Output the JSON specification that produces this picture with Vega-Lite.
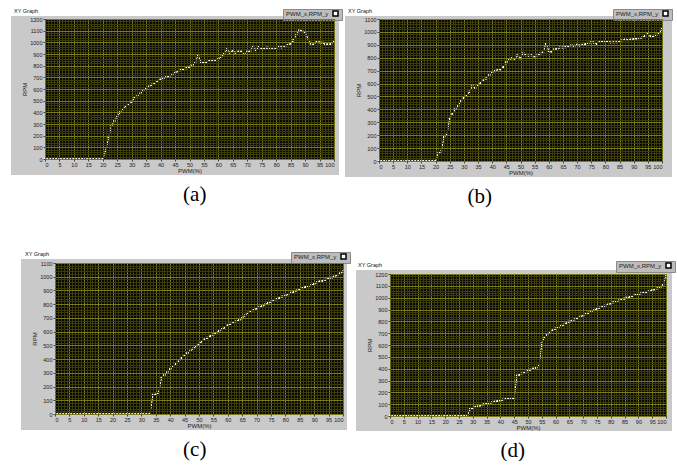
{
"$schema": "https://vega.github.io/schema/vega-lite/v6.json",
"background": "white",
"padding": {"left": 11, "top": 8, "right": 0, "bottom": 0},
"config": {"view": {"stroke": null}, "axis": {"labelFont": "Liberation Sans", "titleFont": "Liberation Sans"}, "legend": {"labelFont": "Liberation Sans"}},
"resolve": {"scale": {"color": "independent"}},
"spacing": 44,
"vconcat": [
{"hconcat": [
 {"title": {"text": "(a)", "orient": "bottom", "anchor": "middle", "dx": 18, "offset": 9, "font": "Liberation Serif", "fontSize": 21, "fontWeight": "normal", "color": "#000"},
  "resolve": {"scale": {"color": "independent"}},
  "vconcat": [
  {"width": 328, "height": 159,
   "view": {"fill": "#c9c9c9", "stroke": null},
   "title": {"text": "XY Graph", "anchor": "start", "dx": 3, "offset": -5.5, "fontSize": 5.5, "font": "Liberation Sans", "fontWeight": "normal", "color": "#111"},
   "data": {"values": [{"pwm":0,"rpm":0},{"pwm":1,"rpm":0},{"pwm":2,"rpm":0},{"pwm":3,"rpm":0},{"pwm":4,"rpm":0},{"pwm":5,"rpm":0},{"pwm":6,"rpm":0},{"pwm":7,"rpm":0},{"pwm":8,"rpm":0},{"pwm":9,"rpm":0},{"pwm":10,"rpm":0},{"pwm":11,"rpm":0},{"pwm":12,"rpm":0},{"pwm":13,"rpm":0},{"pwm":14,"rpm":0},{"pwm":15,"rpm":0},{"pwm":16,"rpm":0},{"pwm":17,"rpm":0},{"pwm":18,"rpm":0},{"pwm":19,"rpm":0},{"pwm":20,"rpm":0},{"pwm":21,"rpm":70},{"pwm":22,"rpm":180},{"pwm":23,"rpm":285},{"pwm":24,"rpm":325},{"pwm":25,"rpm":363},{"pwm":26,"rpm":400},{"pwm":27,"rpm":425},{"pwm":28,"rpm":454},{"pwm":29,"rpm":463},{"pwm":30,"rpm":491},{"pwm":31,"rpm":523},{"pwm":32,"rpm":540},{"pwm":33,"rpm":560},{"pwm":34,"rpm":586},{"pwm":35,"rpm":608},{"pwm":36,"rpm":620},{"pwm":37,"rpm":637},{"pwm":38,"rpm":650},{"pwm":39,"rpm":669},{"pwm":40,"rpm":680},{"pwm":41,"rpm":694},{"pwm":42,"rpm":703},{"pwm":43,"rpm":709},{"pwm":44,"rpm":722},{"pwm":45,"rpm":738},{"pwm":46,"rpm":752},{"pwm":47,"rpm":762},{"pwm":48,"rpm":770},{"pwm":49,"rpm":778},{"pwm":50,"rpm":790},{"pwm":51,"rpm":800},{"pwm":52,"rpm":830},{"pwm":53,"rpm":890},{"pwm":54,"rpm":828},{"pwm":55,"rpm":826},{"pwm":56,"rpm":831},{"pwm":57,"rpm":846},{"pwm":58,"rpm":849},{"pwm":59,"rpm":849},{"pwm":60,"rpm":857},{"pwm":61,"rpm":877},{"pwm":62,"rpm":900},{"pwm":63,"rpm":940},{"pwm":64,"rpm":911},{"pwm":65,"rpm":929},{"pwm":66,"rpm":911},{"pwm":67,"rpm":920},{"pwm":68,"rpm":920},{"pwm":69,"rpm":906},{"pwm":70,"rpm":920},{"pwm":71,"rpm":920},{"pwm":72,"rpm":969},{"pwm":73,"rpm":934},{"pwm":74,"rpm":960},{"pwm":75,"rpm":946},{"pwm":76,"rpm":943},{"pwm":77,"rpm":954},{"pwm":78,"rpm":951},{"pwm":79,"rpm":951},{"pwm":80,"rpm":951},{"pwm":81,"rpm":963},{"pwm":82,"rpm":957},{"pwm":83,"rpm":963},{"pwm":84,"rpm":977},{"pwm":85,"rpm":989},{"pwm":86,"rpm":1017},{"pwm":87,"rpm":1069},{"pwm":88,"rpm":1103},{"pwm":89,"rpm":1097},{"pwm":90,"rpm":1083},{"pwm":91,"rpm":1034},{"pwm":92,"rpm":989},{"pwm":93,"rpm":980},{"pwm":94,"rpm":1003},{"pwm":95,"rpm":1000},{"pwm":96,"rpm":997},{"pwm":97,"rpm":983},{"pwm":98,"rpm":983},{"pwm":99,"rpm":986},{"pwm":100,"rpm":1009}]},
   "layer": [
    {"mark": {"type": "rect", "color": "#080800"},
     "encoding": {
      "x": {"datum": 0, "type": "quantitative", "scale": {"domain": [0, 100], "range": [34, 323], "nice": false, "zero": false},
            "axis": {"orient": "top", "values": [0,1,2,3,4,5,6,7,8,9,10,11,12,13,14,15,16,17,18,19,20,21,22,23,24,25,26,27,28,29,30,31,32,33,34,35,36,37,38,39,40,41,42,43,44,45,46,47,48,49,50,51,52,53,54,55,56,57,58,59,60,61,62,63,64,65,66,67,68,69,70,71,72,73,74,75,76,77,78,79,80,81,82,83,84,85,86,87,88,89,90,91,92,93,94,95,96,97,98,99,100], "grid": true, "gridColor": "#3c3c08", "labels": false, "ticks": false, "domain": false, "title": null, "zindex": 1}},
      "x2": {"datum": 100},
      "y": {"datum": 0, "type": "quantitative", "scale": {"domain": [0, 1200], "range": [143, 3], "nice": false, "zero": false},
            "axis": {"orient": "left", "values": [0,20,40,60,80,100,120,140,160,180,200,220,240,260,280,300,320,340,360,380,400,420,440,460,480,500,520,540,560,580,600,620,640,660,680,700,720,740,760,780,800,820,840,860,880,900,920,940,960,980,1000,1020,1040,1060,1080,1100,1120,1140,1160,1180,1200], "grid": true, "gridColor": "#3c3c08", "labels": false, "ticks": false, "domain": false, "title": null, "zindex": 1}},
      "y2": {"datum": 1200}}},
    {"mark": {"type": "line", "color": "#ffffff", "strokeWidth": 1},
     "encoding": {
      "x": {"field": "pwm", "type": "quantitative", "axis": {"orient": "bottom", "values": [0,5,10,15,20,25,30,35,40,45,50,55,60,65,70,75,80,85,90,95,100], "format": "d", "grid": false, "domain": false, "tickColor": "#444", "tickSize": 2, "labelFontSize": 5.5, "labelColor": "#222", "labelPadding": 1, "title": "PWM(%)", "titleFontSize": 6, "titleFontWeight": "normal", "titleColor": "#222", "titlePadding": 0, "offset": -16, "zindex": 1}},
      "y": {"field": "rpm", "type": "quantitative", "axis": {"orient": "left", "values": [0,100,200,300,400,500,600,700,800,900,1000,1100,1200], "format": "d", "grid": false, "domain": false, "tickColor": "#444", "tickSize": 2, "labelFontSize": 5.5, "labelColor": "#222", "labelPadding": 1, "title": "RPM", "titleFontSize": 6, "titleFontWeight": "normal", "titleColor": "#222", "titlePadding": 2, "offset": -34, "zindex": 1}}}},
    {"mark": {"type": "square", "filled": true, "size": 5, "opacity": 1},
     "encoding": {
      "x": {"field": "pwm", "type": "quantitative", "axis": {"orient": "top", "values": [0,5,10,15,20,25,30,35,40,45,50,55,60,65,70,75,80,85,90,95,100], "grid": true, "gridColor": "#7a7a1e", "labels": false, "ticks": false, "domain": false, "title": null, "zindex": 1}},
      "y": {"field": "rpm", "type": "quantitative", "axis": {"orient": "left", "values": [0,100,200,300,400,500,600,700,800,900,1000,1100,1200], "grid": true, "gridColor": "#7a7a1e", "labels": false, "ticks": false, "domain": false, "title": null, "zindex": 1}},
      "color": {"datum": "PWM_x,RPM_y", "type": "nominal", "scale": {"range": ["#ffffff"]}, "legend": {"orient": "none", "legendX": 272, "legendY": -7, "title": null, "labelFontSize": 6, "labelColor": "#222", "symbolType": "square", "symbolSize": 25, "symbolStrokeColor": "#000", "symbolStrokeWidth": 1.5, "fillColor": "#bdbdbd", "strokeColor": "#8a8a8a", "padding": 1, "symbolOffset": 48, "labelOffset": -53}}}}
   ],
   "resolve": {"axis": {"x": "independent", "y": "independent"}}
  }]},
 {"title": {"text": "(b)", "orient": "bottom", "anchor": "middle", "dx": -29, "offset": 9, "font": "Liberation Serif", "fontSize": 21, "fontWeight": "normal", "color": "#000"},
  "resolve": {"scale": {"color": "independent"}},
  "vconcat": [
  {"width": 327, "height": 161,
   "view": {"fill": "#c9c9c9", "stroke": null},
   "title": {"text": "XY Graph", "anchor": "start", "dx": 3, "offset": -5.5, "fontSize": 5.5, "font": "Liberation Sans", "fontWeight": "normal", "color": "#111"},
   "data": {"values": [{"pwm":0,"rpm":0},{"pwm":1,"rpm":0},{"pwm":2,"rpm":0},{"pwm":3,"rpm":0},{"pwm":4,"rpm":0},{"pwm":5,"rpm":0},{"pwm":6,"rpm":0},{"pwm":7,"rpm":0},{"pwm":8,"rpm":0},{"pwm":9,"rpm":0},{"pwm":10,"rpm":0},{"pwm":11,"rpm":0},{"pwm":12,"rpm":0},{"pwm":13,"rpm":0},{"pwm":14,"rpm":0},{"pwm":15,"rpm":0},{"pwm":16,"rpm":0},{"pwm":17,"rpm":0},{"pwm":18,"rpm":0},{"pwm":19,"rpm":0},{"pwm":20,"rpm":0},{"pwm":21,"rpm":60},{"pwm":22,"rpm":75},{"pwm":23,"rpm":185},{"pwm":24,"rpm":203},{"pwm":25,"rpm":333},{"pwm":26,"rpm":367},{"pwm":27,"rpm":403},{"pwm":28,"rpm":429},{"pwm":29,"rpm":463},{"pwm":30,"rpm":489},{"pwm":31,"rpm":507},{"pwm":32,"rpm":536},{"pwm":33,"rpm":580},{"pwm":34,"rpm":567},{"pwm":35,"rpm":588},{"pwm":36,"rpm":606},{"pwm":37,"rpm":624},{"pwm":38,"rpm":640},{"pwm":39,"rpm":666},{"pwm":40,"rpm":689},{"pwm":41,"rpm":697},{"pwm":42,"rpm":710},{"pwm":43,"rpm":710},{"pwm":44,"rpm":728},{"pwm":45,"rpm":767},{"pwm":46,"rpm":785},{"pwm":47,"rpm":796},{"pwm":48,"rpm":790},{"pwm":49,"rpm":819},{"pwm":50,"rpm":796},{"pwm":51,"rpm":835},{"pwm":52,"rpm":819},{"pwm":53,"rpm":816},{"pwm":54,"rpm":819},{"pwm":55,"rpm":811},{"pwm":56,"rpm":819},{"pwm":57,"rpm":832},{"pwm":58,"rpm":840},{"pwm":59,"rpm":913},{"pwm":60,"rpm":853},{"pwm":61,"rpm":848},{"pwm":62,"rpm":866},{"pwm":63,"rpm":871},{"pwm":64,"rpm":879},{"pwm":65,"rpm":879},{"pwm":66,"rpm":882},{"pwm":67,"rpm":884},{"pwm":68,"rpm":897},{"pwm":69,"rpm":892},{"pwm":70,"rpm":900},{"pwm":71,"rpm":895},{"pwm":72,"rpm":900},{"pwm":73,"rpm":905},{"pwm":74,"rpm":915},{"pwm":75,"rpm":920},{"pwm":76,"rpm":918},{"pwm":77,"rpm":908},{"pwm":78,"rpm":926},{"pwm":79,"rpm":928},{"pwm":80,"rpm":928},{"pwm":81,"rpm":926},{"pwm":82,"rpm":918},{"pwm":83,"rpm":920},{"pwm":84,"rpm":920},{"pwm":85,"rpm":923},{"pwm":86,"rpm":936},{"pwm":87,"rpm":941},{"pwm":88,"rpm":936},{"pwm":89,"rpm":941},{"pwm":90,"rpm":947},{"pwm":91,"rpm":949},{"pwm":92,"rpm":952},{"pwm":93,"rpm":957},{"pwm":94,"rpm":967},{"pwm":95,"rpm":988},{"pwm":96,"rpm":965},{"pwm":97,"rpm":962},{"pwm":98,"rpm":978},{"pwm":99,"rpm":986},{"pwm":100,"rpm":1022}]},
   "layer": [
    {"mark": {"type": "rect", "color": "#080800"},
     "encoding": {
      "x": {"datum": 0, "type": "quantitative", "scale": {"domain": [0, 100], "range": [34, 317], "nice": false, "zero": false},
            "axis": {"orient": "top", "values": [0,1,2,3,4,5,6,7,8,9,10,11,12,13,14,15,16,17,18,19,20,21,22,23,24,25,26,27,28,29,30,31,32,33,34,35,36,37,38,39,40,41,42,43,44,45,46,47,48,49,50,51,52,53,54,55,56,57,58,59,60,61,62,63,64,65,66,67,68,69,70,71,72,73,74,75,76,77,78,79,80,81,82,83,84,85,86,87,88,89,90,91,92,93,94,95,96,97,98,99,100], "grid": true, "gridColor": "#3c3c08", "labels": false, "ticks": false, "domain": false, "title": null, "zindex": 1}},
      "x2": {"datum": 100},
      "y": {"datum": 0, "type": "quantitative", "scale": {"domain": [0, 1100], "range": [145, 3], "nice": false, "zero": false},
            "axis": {"orient": "left", "values": [0,20,40,60,80,100,120,140,160,180,200,220,240,260,280,300,320,340,360,380,400,420,440,460,480,500,520,540,560,580,600,620,640,660,680,700,720,740,760,780,800,820,840,860,880,900,920,940,960,980,1000,1020,1040,1060,1080,1100], "grid": true, "gridColor": "#3c3c08", "labels": false, "ticks": false, "domain": false, "title": null, "zindex": 1}},
      "y2": {"datum": 1100}}},
    {"mark": {"type": "line", "color": "#ffffff", "strokeWidth": 1},
     "encoding": {
      "x": {"field": "pwm", "type": "quantitative", "axis": {"orient": "bottom", "values": [0,5,10,15,20,25,30,35,40,45,50,55,60,65,70,75,80,85,90,95,100], "format": "d", "grid": false, "domain": false, "tickColor": "#444", "tickSize": 2, "labelFontSize": 5.5, "labelColor": "#222", "labelPadding": 1, "title": "PWM(%)", "titleFontSize": 6, "titleFontWeight": "normal", "titleColor": "#222", "titlePadding": 0, "offset": -16, "zindex": 1}},
      "y": {"field": "rpm", "type": "quantitative", "axis": {"orient": "left", "values": [0,100,200,300,400,500,600,700,800,900,1000,1100], "format": "d", "grid": false, "domain": false, "tickColor": "#444", "tickSize": 2, "labelFontSize": 5.5, "labelColor": "#222", "labelPadding": 1, "title": "RPM", "titleFontSize": 6, "titleFontWeight": "normal", "titleColor": "#222", "titlePadding": 2, "offset": -34, "zindex": 1}}}},
    {"mark": {"type": "square", "filled": true, "size": 5, "opacity": 1},
     "encoding": {
      "x": {"field": "pwm", "type": "quantitative", "axis": {"orient": "top", "values": [0,5,10,15,20,25,30,35,40,45,50,55,60,65,70,75,80,85,90,95,100], "grid": true, "gridColor": "#7a7a1e", "labels": false, "ticks": false, "domain": false, "title": null, "zindex": 1}},
      "y": {"field": "rpm", "type": "quantitative", "axis": {"orient": "left", "values": [0,100,200,300,400,500,600,700,800,900,1000,1100], "grid": true, "gridColor": "#7a7a1e", "labels": false, "ticks": false, "domain": false, "title": null, "zindex": 1}},
      "color": {"datum": "PWM_x,RPM_y", "type": "nominal", "scale": {"range": ["#ffffff"]}, "legend": {"orient": "none", "legendX": 268, "legendY": -7, "title": null, "labelFontSize": 6, "labelColor": "#222", "symbolType": "square", "symbolSize": 25, "symbolStrokeColor": "#000", "symbolStrokeWidth": 1.5, "fillColor": "#bdbdbd", "strokeColor": "#8a8a8a", "padding": 1, "symbolOffset": 48, "labelOffset": -53}}}}
   ],
   "resolve": {"axis": {"x": "independent", "y": "independent"}}
  }]}
], "spacing": 2, "resolve": {"scale": {"color": "independent"}}},
{"hconcat": [
 {"width": 5, "height": 1, "data": {"values": []}, "mark": "point", "encoding": {}},
 {"title": {"text": "(c)", "orient": "bottom", "anchor": "middle", "dx": 9, "offset": 9, "font": "Liberation Serif", "fontSize": 21, "fontWeight": "normal", "color": "#000"},
  "resolve": {"scale": {"color": "independent"}},
  "vconcat": [
  {"width": 326, "height": 171,
   "view": {"fill": "#c9c9c9", "stroke": null},
   "title": {"text": "XY Graph", "anchor": "start", "dx": 4, "offset": -5.5, "fontSize": 5.5, "font": "Liberation Sans", "fontWeight": "normal", "color": "#111"},
   "data": {"values": [{"pwm":0,"rpm":0},{"pwm":1,"rpm":0},{"pwm":2,"rpm":0},{"pwm":3,"rpm":0},{"pwm":4,"rpm":0},{"pwm":5,"rpm":0},{"pwm":6,"rpm":0},{"pwm":7,"rpm":0},{"pwm":8,"rpm":0},{"pwm":9,"rpm":0},{"pwm":10,"rpm":0},{"pwm":11,"rpm":0},{"pwm":12,"rpm":0},{"pwm":13,"rpm":0},{"pwm":14,"rpm":0},{"pwm":15,"rpm":0},{"pwm":16,"rpm":0},{"pwm":17,"rpm":0},{"pwm":18,"rpm":0},{"pwm":19,"rpm":0},{"pwm":20,"rpm":0},{"pwm":21,"rpm":0},{"pwm":22,"rpm":0},{"pwm":23,"rpm":0},{"pwm":24,"rpm":0},{"pwm":25,"rpm":0},{"pwm":26,"rpm":0},{"pwm":27,"rpm":0},{"pwm":28,"rpm":0},{"pwm":29,"rpm":0},{"pwm":30,"rpm":0},{"pwm":31,"rpm":0},{"pwm":32,"rpm":0},{"pwm":33,"rpm":0},{"pwm":34,"rpm":139},{"pwm":35,"rpm":141},{"pwm":36,"rpm":156},{"pwm":37,"rpm":263},{"pwm":38,"rpm":285},{"pwm":39,"rpm":304},{"pwm":40,"rpm":328},{"pwm":41,"rpm":345},{"pwm":42,"rpm":363},{"pwm":43,"rpm":382},{"pwm":44,"rpm":406},{"pwm":45,"rpm":428},{"pwm":46,"rpm":445},{"pwm":47,"rpm":460},{"pwm":48,"rpm":477},{"pwm":49,"rpm":494},{"pwm":50,"rpm":511},{"pwm":51,"rpm":528},{"pwm":52,"rpm":543},{"pwm":53,"rpm":555},{"pwm":54,"rpm":567},{"pwm":55,"rpm":579},{"pwm":56,"rpm":591},{"pwm":57,"rpm":606},{"pwm":58,"rpm":618},{"pwm":59,"rpm":630},{"pwm":60,"rpm":645},{"pwm":61,"rpm":657},{"pwm":62,"rpm":664},{"pwm":63,"rpm":676},{"pwm":64,"rpm":686},{"pwm":65,"rpm":698},{"pwm":66,"rpm":718},{"pwm":67,"rpm":737},{"pwm":68,"rpm":747},{"pwm":69,"rpm":757},{"pwm":70,"rpm":769},{"pwm":71,"rpm":779},{"pwm":72,"rpm":788},{"pwm":73,"rpm":798},{"pwm":74,"rpm":808},{"pwm":75,"rpm":818},{"pwm":76,"rpm":827},{"pwm":77,"rpm":837},{"pwm":78,"rpm":847},{"pwm":79,"rpm":856},{"pwm":80,"rpm":861},{"pwm":81,"rpm":873},{"pwm":82,"rpm":883},{"pwm":83,"rpm":890},{"pwm":84,"rpm":900},{"pwm":85,"rpm":910},{"pwm":86,"rpm":917},{"pwm":87,"rpm":925},{"pwm":88,"rpm":932},{"pwm":89,"rpm":939},{"pwm":90,"rpm":949},{"pwm":91,"rpm":959},{"pwm":92,"rpm":966},{"pwm":93,"rpm":971},{"pwm":94,"rpm":978},{"pwm":95,"rpm":988},{"pwm":96,"rpm":993},{"pwm":97,"rpm":1002},{"pwm":98,"rpm":1012},{"pwm":99,"rpm":1024},{"pwm":100,"rpm":1039}]},
   "layer": [
    {"mark": {"type": "rect", "color": "#080800"},
     "encoding": {
      "x": {"datum": 0, "type": "quantitative", "scale": {"domain": [0, 100], "range": [34, 322], "nice": false, "zero": false},
            "axis": {"orient": "top", "values": [0,1,2,3,4,5,6,7,8,9,10,11,12,13,14,15,16,17,18,19,20,21,22,23,24,25,26,27,28,29,30,31,32,33,34,35,36,37,38,39,40,41,42,43,44,45,46,47,48,49,50,51,52,53,54,55,56,57,58,59,60,61,62,63,64,65,66,67,68,69,70,71,72,73,74,75,76,77,78,79,80,81,82,83,84,85,86,87,88,89,90,91,92,93,94,95,96,97,98,99,100], "grid": true, "gridColor": "#3c3c08", "labels": false, "ticks": false, "domain": false, "title": null, "zindex": 1}},
      "x2": {"datum": 100},
      "y": {"datum": 0, "type": "quantitative", "scale": {"domain": [0, 1100], "range": [155, 4], "nice": false, "zero": false},
            "axis": {"orient": "left", "values": [0,20,40,60,80,100,120,140,160,180,200,220,240,260,280,300,320,340,360,380,400,420,440,460,480,500,520,540,560,580,600,620,640,660,680,700,720,740,760,780,800,820,840,860,880,900,920,940,960,980,1000,1020,1040,1060,1080,1100], "grid": true, "gridColor": "#3c3c08", "labels": false, "ticks": false, "domain": false, "title": null, "zindex": 1}},
      "y2": {"datum": 1100}}},
    {"mark": {"type": "line", "color": "#ffffff", "strokeWidth": 1},
     "encoding": {
      "x": {"field": "pwm", "type": "quantitative", "axis": {"orient": "bottom", "values": [0,5,10,15,20,25,30,35,40,45,50,55,60,65,70,75,80,85,90,95,100], "format": "d", "grid": false, "domain": false, "tickColor": "#444", "tickSize": 2, "labelFontSize": 5.5, "labelColor": "#222", "labelPadding": 1, "title": "PWM(%)", "titleFontSize": 6, "titleFontWeight": "normal", "titleColor": "#222", "titlePadding": 0, "offset": -16, "zindex": 1}},
      "y": {"field": "rpm", "type": "quantitative", "axis": {"orient": "left", "values": [0,100,200,300,400,500,600,700,800,900,1000,1100], "format": "d", "grid": false, "domain": false, "tickColor": "#444", "tickSize": 2, "labelFontSize": 5.5, "labelColor": "#222", "labelPadding": 1, "title": "RPM", "titleFontSize": 6, "titleFontWeight": "normal", "titleColor": "#222", "titlePadding": 2, "offset": -34, "zindex": 1}}}},
    {"mark": {"type": "square", "filled": true, "size": 5, "opacity": 1},
     "encoding": {
      "x": {"field": "pwm", "type": "quantitative", "axis": {"orient": "top", "values": [0,5,10,15,20,25,30,35,40,45,50,55,60,65,70,75,80,85,90,95,100], "grid": true, "gridColor": "#7a7a1e", "labels": false, "ticks": false, "domain": false, "title": null, "zindex": 1}},
      "y": {"field": "rpm", "type": "quantitative", "axis": {"orient": "left", "values": [0,100,200,300,400,500,600,700,800,900,1000,1100], "grid": true, "gridColor": "#7a7a1e", "labels": false, "ticks": false, "domain": false, "title": null, "zindex": 1}},
      "color": {"datum": "PWM_x,RPM_y", "type": "nominal", "scale": {"range": ["#ffffff"]}, "legend": {"orient": "none", "legendX": 270, "legendY": -7, "title": null, "labelFontSize": 6, "labelColor": "#222", "symbolType": "square", "symbolSize": 25, "symbolStrokeColor": "#000", "symbolStrokeWidth": 1.5, "fillColor": "#bdbdbd", "strokeColor": "#8a8a8a", "padding": 1, "symbolOffset": 48, "labelOffset": -53}}}}
   ],
   "resolve": {"axis": {"x": "independent", "y": "independent"}}
  }]},
 {"title": {"text": "(d)", "orient": "bottom", "anchor": "middle", "dx": -3, "offset": 9, "font": "Liberation Serif", "fontSize": 21, "fontWeight": "normal", "color": "#000"},
  "resolve": {"scale": {"color": "independent"}},
  "spacing": 0,
  "vconcat": [
  {"width": 1, "height": 1, "data": {"values": []}, "mark": "point", "encoding": {}},
  {"width": 316, "height": 161,
   "view": {"fill": "#c9c9c9", "stroke": null},
   "title": {"text": "XY Graph", "anchor": "start", "dx": 2, "offset": -7.5, "fontSize": 5.5, "font": "Liberation Sans", "fontWeight": "normal", "color": "#111"},
   "data": {"values": [{"pwm":0,"rpm":0},{"pwm":1,"rpm":0},{"pwm":2,"rpm":0},{"pwm":3,"rpm":0},{"pwm":4,"rpm":0},{"pwm":5,"rpm":0},{"pwm":6,"rpm":0},{"pwm":7,"rpm":0},{"pwm":8,"rpm":0},{"pwm":9,"rpm":0},{"pwm":10,"rpm":0},{"pwm":11,"rpm":0},{"pwm":12,"rpm":0},{"pwm":13,"rpm":0},{"pwm":14,"rpm":0},{"pwm":15,"rpm":0},{"pwm":16,"rpm":0},{"pwm":17,"rpm":0},{"pwm":18,"rpm":0},{"pwm":19,"rpm":0},{"pwm":20,"rpm":0},{"pwm":21,"rpm":0},{"pwm":22,"rpm":0},{"pwm":23,"rpm":0},{"pwm":24,"rpm":0},{"pwm":25,"rpm":0},{"pwm":26,"rpm":0},{"pwm":27,"rpm":0},{"pwm":28,"rpm":0},{"pwm":29,"rpm":59},{"pwm":30,"rpm":68},{"pwm":31,"rpm":76},{"pwm":32,"rpm":82},{"pwm":33,"rpm":90},{"pwm":34,"rpm":99},{"pwm":35,"rpm":104},{"pwm":36,"rpm":110},{"pwm":37,"rpm":115},{"pwm":38,"rpm":121},{"pwm":39,"rpm":127},{"pwm":40,"rpm":132},{"pwm":41,"rpm":138},{"pwm":42,"rpm":144},{"pwm":43,"rpm":146},{"pwm":44,"rpm":149},{"pwm":45,"rpm":152},{"pwm":46,"rpm":341},{"pwm":47,"rpm":349},{"pwm":48,"rpm":361},{"pwm":49,"rpm":372},{"pwm":50,"rpm":380},{"pwm":51,"rpm":392},{"pwm":52,"rpm":400},{"pwm":53,"rpm":408},{"pwm":54,"rpm":423},{"pwm":55,"rpm":614},{"pwm":56,"rpm":665},{"pwm":57,"rpm":690},{"pwm":58,"rpm":710},{"pwm":59,"rpm":724},{"pwm":60,"rpm":738},{"pwm":61,"rpm":749},{"pwm":62,"rpm":761},{"pwm":63,"rpm":772},{"pwm":64,"rpm":783},{"pwm":65,"rpm":797},{"pwm":66,"rpm":808},{"pwm":67,"rpm":817},{"pwm":68,"rpm":828},{"pwm":69,"rpm":839},{"pwm":70,"rpm":851},{"pwm":71,"rpm":862},{"pwm":72,"rpm":873},{"pwm":73,"rpm":885},{"pwm":74,"rpm":896},{"pwm":75,"rpm":907},{"pwm":76,"rpm":915},{"pwm":77,"rpm":924},{"pwm":78,"rpm":932},{"pwm":79,"rpm":941},{"pwm":80,"rpm":952},{"pwm":81,"rpm":961},{"pwm":82,"rpm":969},{"pwm":83,"rpm":977},{"pwm":84,"rpm":986},{"pwm":85,"rpm":992},{"pwm":86,"rpm":1000},{"pwm":87,"rpm":1008},{"pwm":88,"rpm":1014},{"pwm":89,"rpm":1023},{"pwm":90,"rpm":1028},{"pwm":91,"rpm":1037},{"pwm":92,"rpm":1042},{"pwm":93,"rpm":1048},{"pwm":94,"rpm":1056},{"pwm":95,"rpm":1062},{"pwm":96,"rpm":1070},{"pwm":97,"rpm":1079},{"pwm":98,"rpm":1087},{"pwm":99,"rpm":1113},{"pwm":100,"rpm":1190}]},
   "layer": [
    {"mark": {"type": "rect", "color": "#080800"},
     "encoding": {
      "x": {"datum": 0, "type": "quantitative", "scale": {"domain": [0, 100], "range": [34, 310], "nice": false, "zero": false},
            "axis": {"orient": "top", "values": [0,1,2,3,4,5,6,7,8,9,10,11,12,13,14,15,16,17,18,19,20,21,22,23,24,25,26,27,28,29,30,31,32,33,34,35,36,37,38,39,40,41,42,43,44,45,46,47,48,49,50,51,52,53,54,55,56,57,58,59,60,61,62,63,64,65,66,67,68,69,70,71,72,73,74,75,76,77,78,79,80,81,82,83,84,85,86,87,88,89,90,91,92,93,94,95,96,97,98,99,100], "grid": true, "gridColor": "#3c3c08", "labels": false, "ticks": false, "domain": false, "title": null, "zindex": 1}},
      "x2": {"datum": 100},
      "y": {"datum": 0, "type": "quantitative", "scale": {"domain": [0, 1200], "range": [146, 4], "nice": false, "zero": false},
            "axis": {"orient": "left", "values": [0,20,40,60,80,100,120,140,160,180,200,220,240,260,280,300,320,340,360,380,400,420,440,460,480,500,520,540,560,580,600,620,640,660,680,700,720,740,760,780,800,820,840,860,880,900,920,940,960,980,1000,1020,1040,1060,1080,1100,1120,1140,1160,1180,1200], "grid": true, "gridColor": "#3c3c08", "labels": false, "ticks": false, "domain": false, "title": null, "zindex": 1}},
      "y2": {"datum": 1200}}},
    {"mark": {"type": "line", "color": "#ffffff", "strokeWidth": 1},
     "encoding": {
      "x": {"field": "pwm", "type": "quantitative", "axis": {"orient": "bottom", "values": [0,5,10,15,20,25,30,35,40,45,50,55,60,65,70,75,80,85,90,95,100], "format": "d", "grid": false, "domain": false, "tickColor": "#444", "tickSize": 2, "labelFontSize": 5.5, "labelColor": "#222", "labelPadding": 1, "title": "PWM(%)", "titleFontSize": 6, "titleFontWeight": "normal", "titleColor": "#222", "titlePadding": 0, "offset": -15, "zindex": 1}},
      "y": {"field": "rpm", "type": "quantitative", "axis": {"orient": "left", "values": [0,100,200,300,400,500,600,700,800,900,1000,1100,1200], "format": "d", "grid": false, "domain": false, "tickColor": "#444", "tickSize": 2, "labelFontSize": 5.5, "labelColor": "#222", "labelPadding": 1, "title": "RPM", "titleFontSize": 6, "titleFontWeight": "normal", "titleColor": "#222", "titlePadding": 2, "offset": -34, "zindex": 1}}}},
    {"mark": {"type": "square", "filled": true, "size": 5, "opacity": 1},
     "encoding": {
      "x": {"field": "pwm", "type": "quantitative", "axis": {"orient": "top", "values": [0,5,10,15,20,25,30,35,40,45,50,55,60,65,70,75,80,85,90,95,100], "grid": true, "gridColor": "#7a7a1e", "labels": false, "ticks": false, "domain": false, "title": null, "zindex": 1}},
      "y": {"field": "rpm", "type": "quantitative", "axis": {"orient": "left", "values": [0,100,200,300,400,500,600,700,800,900,1000,1100,1200], "grid": true, "gridColor": "#7a7a1e", "labels": false, "ticks": false, "domain": false, "title": null, "zindex": 1}},
      "color": {"datum": "PWM_x,RPM_y", "type": "nominal", "scale": {"range": ["#ffffff"]}, "legend": {"orient": "none", "legendX": 260, "legendY": -9, "title": null, "labelFontSize": 6, "labelColor": "#222", "symbolType": "square", "symbolSize": 25, "symbolStrokeColor": "#000", "symbolStrokeWidth": 1.5, "fillColor": "#bdbdbd", "strokeColor": "#8a8a8a", "padding": 1, "symbolOffset": 48, "labelOffset": -53}}}}
   ],
   "resolve": {"axis": {"x": "independent", "y": "independent"}}
  }]}
], "spacing": 5, "resolve": {"scale": {"color": "independent"}}}
]
}
